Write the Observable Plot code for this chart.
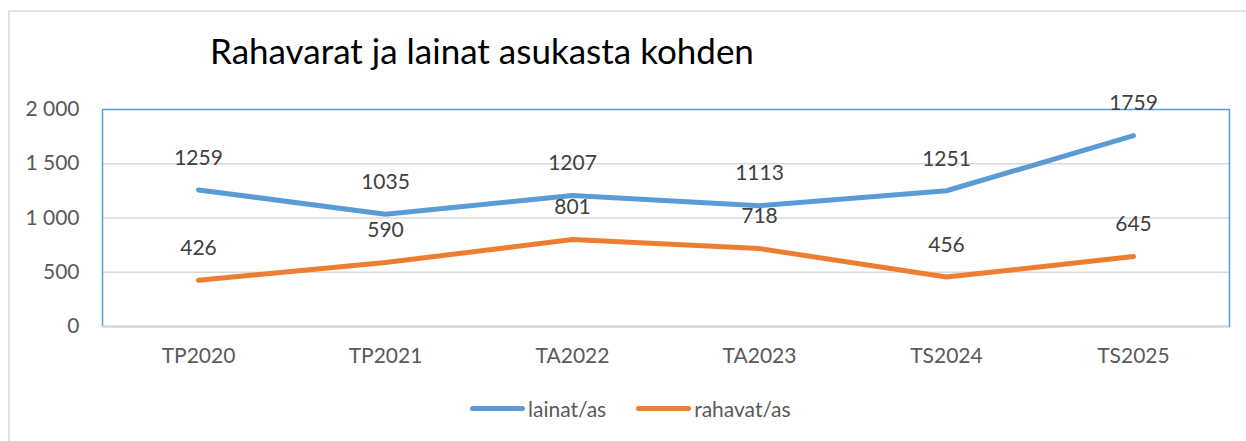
<!DOCTYPE html>
<html>
<head>
<meta charset="utf-8">
<script src="https://cdn.jsdelivr.net/npm/d3@7"></script>
<script src="https://cdn.jsdelivr.net/npm/@observablehq/plot@0.6"></script>
<style>
  html, body { margin: 0; padding: 0; background: #fff; overflow: hidden; }
  #wrap { position: relative; width: 1246px; height: 441px; font-family: Lato, "Open Sans", sans-serif; }
  #border { position: absolute; left: 8px; top: 10px; width: 1400px; height: 600px; border: 2px solid #e3e3e3; box-sizing: border-box; }
  #title { position: absolute; left: 210px; top: 33px; font-size: 35px; color: #000; white-space: nowrap; line-height: 1; }
  #legend { position: absolute; top: 396px; left: 470px; display: flex; align-items: center; font-size: 21px; color: #595959; white-space: nowrap; }
  .sw { display: inline-block; width: 55px; height: 5px; border-radius: 3px; margin-right: 3px; }
  #chart { position: absolute; left: 0; top: 0; }
</style>
</head>
<body>
<div id="wrap">
  <div id="border"></div>
  <div id="chart"></div>
  <div id="title">Rahavarat ja lainat asukasta kohden</div>
  <div id="legend"></div>
</div>
<script>
const categories = ["TP2020", "TP2021", "TA2022", "TA2023", "TS2024", "TS2025"];
const lainat = [1259, 1035, 1207, 1113, 1251, 1759];
const rahavat = [426, 590, 801, 718, 456, 645];
const seriesNames = ["lainat/as", "rahavat/as"];
const seriesColors = ["#5B9BD5", "#ED7D31"];
const yTicks = [0, 500, 1000, 1500, 2000];

const data = [];
categories.forEach((c, i) => {
  data.push({cat: c, series: seriesNames[0], value: lainat[i]});
  data.push({cat: c, series: seriesNames[1], value: rahavat[i]});
});

const fmt = d => d3.format(",")(d).replace(/,/g, "\u00a0");

const plot = Plot.plot({
  width: 1246,
  height: 441,
  marginLeft: 102,
  marginRight: 17,
  marginTop: 109,
  marginBottom: 115,
  style: { fontFamily: "Lato, 'Open Sans', sans-serif", fontSize: "21px", color: "#595959", background: "transparent" },
  x: { type: "point", domain: categories, padding: 0.5, label: null },
  y: { domain: [0, 2000], label: null },
  color: { domain: seriesNames, range: seriesColors },
  marks: [
    Plot.gridY(yTicks.filter(d => d > 0 && d < 2000), { stroke: "#D9D9D9", strokeOpacity: 1, strokeWidth: 1.5 }),
    Plot.frame({ stroke: "#5B9BD5", strokeWidth: 1.5 }),
    Plot.ruleY([0], { stroke: "#D9D9D9", strokeWidth: 2 }),
    Plot.axisY({ ticks: yTicks, tickFormat: fmt, tickSize: 0, tickPadding: 23, fill: "#595959", fontSize: 21, label: null }),
    Plot.axisX({ tickSize: 0, tickPadding: 22, fill: "#595959", fontSize: 21, label: null }),
    Plot.line(data, { x: "cat", y: "value", z: "series", stroke: "series", strokeWidth: 5, strokeLinecap: "round", strokeLinejoin: "round" }),
    Plot.text(data, { x: "cat", y: "value", text: d => String(d.value), dy: -32, fill: "#404040", fontSize: 21 })
  ]
});
document.getElementById("chart").appendChild(plot);

const legend = document.getElementById("legend");
seriesNames.forEach((name, i) => {
  const item = document.createElement("span");
  item.style.display = "inline-flex";
  item.style.alignItems = "center";
  item.style.marginRight = i === 0 ? "30px" : "0";
  const sw = document.createElement("span");
  sw.className = "sw";
  sw.style.background = seriesColors[i];
  item.appendChild(sw);
  item.appendChild(document.createTextNode(name));
  legend.appendChild(item);
});
</script>
</body>
</html>
